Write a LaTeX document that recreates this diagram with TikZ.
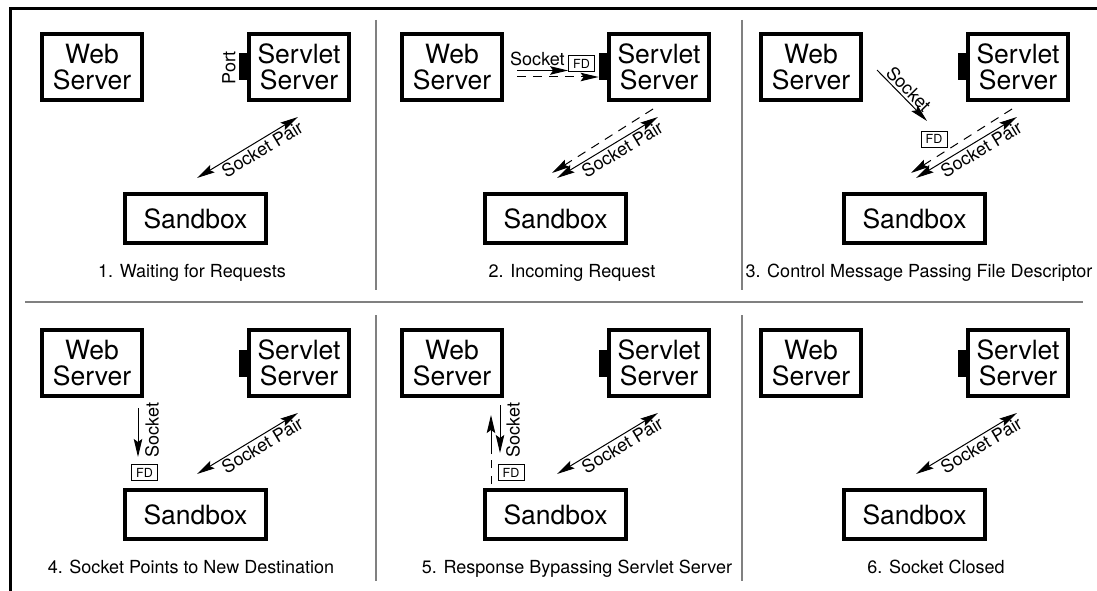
\documentclass[tikz,border=0pt]{standalone}
\usepackage{fontspec}
\setmainfont{TeX Gyre Heros}
\usetikzlibrary{arrows.meta}

\tikzset{
  x=1pt, y=-1pt,
  srvbox/.style={draw, line width=4pt, minimum width=100pt, minimum height=66pt,
    inner sep=0pt, align=center, font=\fontsize{26.5}{26.5}\selectfont},
  sbxbox/.style={draw, line width=4pt, minimum width=141pt, minimum height=49pt,
    inner sep=0pt, font=\fontsize{26.5}{27}\selectfont},
  portblk/.style={fill=black, minimum width=8pt, minimum height=27pt, inner sep=0pt},
  fdtag/.style={draw, line width=0.8pt, fill=white, minimum width=26pt,
    minimum height=16pt, inner sep=0pt, font=\fontsize{12.5}{13}\selectfont},
  lbl/.style={font=\fontsize{18}{19}\selectfont},
  headR/.style={-{Stealth[length=18pt,width=8.5pt,inset=3pt]}},
  headLR/.style={{Stealth[length=18pt,width=8.5pt,inset=3pt]}-{Stealth[length=18pt,width=8.5pt,inset=3pt]}},
  flowline/.style={line width=1pt},
  dashline/.style={line width=1pt, dash pattern=on 9pt off 7pt},
  divider/.style={draw=gray, line width=1.5pt},
}

% Common content of one stage: the three processes, the port and the socket pair
\newcommand\drawpanel[2]{%
  \node[srvbox] (web) at (92,67) {Web\\Server};
  \node[srvbox] (servlet) at (299,67) {Servlet\\Server};
  \node[portblk, anchor=east] (port) at (servlet.west) {};
  \node[sbxbox] (sandbox) at (195.5,218.5) {Sandbox};
  \coordinate (pairA) at (197,178);
  \coordinate (pairB) at (298,117);
  \draw[flowline, headLR] (pairA) -- (pairB)
    node[lbl, sloped, below, pos=0.6, inner sep=1.5pt] {Socket Pair};
  \node[lbl, anchor=base] (caption) at (#2,277) {#1};
}

\begin{document}
\begin{tikzpicture}
\useasboundingbox (0,0) rectangle (1097,591);

% outer frame (top and left edges)
\draw[line width=3pt, line join=miter] (1097,9) -- (10,9) -- (10,591);

% grid between the six stages
\draw[divider] (25,302) -- (1083,302);
\draw[divider] (376,20) -- (376,290);
\draw[divider] (742,20) -- (742,290);
\draw[divider] (376,315) -- (376,581);
\draw[divider] (742,315) -- (742,581);

% 1. waiting
\begin{scope}[name prefix=p1-]
  \drawpanel{1. Waiting for Requests}{192}
  \node[lbl, rotate=90] (portlbl) at (229,68) {Port};
\end{scope}

% 2. incoming request
\begin{scope}[shift={(360,0)}, name prefix=p2-]
  \drawpanel{2. Incoming Request}{212}
  \node[fdtag] (fd) at (221.5,63.5) {FD};
  \coordinate (sockA) at (157,70.5);
  \draw[flowline, headR] (sockA) -- (sockA -| fd.west)
    node[lbl, above, pos=0.4, inner sep=4pt] {Socket};
  \coordinate (dashA) at (157,77);
  \draw[dashline, headR] (dashA) -- (dashA -| port.west);
  \coordinate (dpA) at (293,109);
  \coordinate (dpB) at (192,173);
  \draw[dashline, headR] (dpA) -- (dpB);
\end{scope}

% 3. control message passing the descriptor
\begin{scope}[shift={(719,0)}, name prefix=p3-]
  \drawpanel{3. Control Message Passing File Descriptor}{200}
  \coordinate (sockA) at (158,70);
  \coordinate (sockB) at (208,121);
  \draw[flowline, headR] (sockA) -- (sockB)
    node[lbl, sloped, above, midway, inner sep=2pt] {Socket};
  \coordinate (dpA) at (293,109);
  \coordinate (dpB) at (192,173);
  \draw[dashline, headR] (dpA) -- (dpB);
  \node[fdtag] (fd) at (215,139) {FD};
\end{scope}

% 4. socket now points to the sandbox
\begin{scope}[shift={(0,296)}, name prefix=p4-]
  \drawpanel{4. Socket Points to New Destination}{191}
  \coordinate (sockA) at (138,112);
  \coordinate (sockB) at (138,161);
  \draw[flowline, headR] (sockA) -- (sockB);
  \node[lbl, rotate=90] (socklbl) at (152,134) {Socket};
  \node[fdtag] (fd) at (144.5,176.5) {FD};
\end{scope}

% 5. response bypassing the servlet server
\begin{scope}[shift={(360,296)}, name prefix=p5-]
  \drawpanel{5. Response Bypassing Servlet Server}{217}
  \coordinate (sockA) at (140,109);
  \coordinate (sockB) at (140,157);
  \draw[flowline, headR] (sockA) -- (sockB);
  \coordinate (respA) at (131,188);
  \coordinate (respB) at (131,119);
  \draw[line width=1pt, dash pattern=on 8pt off 8pt on 8pt off 6pt on 60pt, headR] (respA) -- (respB);
  \node[lbl, rotate=90] (socklbl) at (153,134) {Socket};
  \node[fdtag] (fd) at (151,176.5) {FD};
\end{scope}

% 6. socket closed
\begin{scope}[shift={(719,296)}, name prefix=p6-]
  \drawpanel{6. Socket Closed}{217}
\end{scope}
\end{tikzpicture}
\end{document}
